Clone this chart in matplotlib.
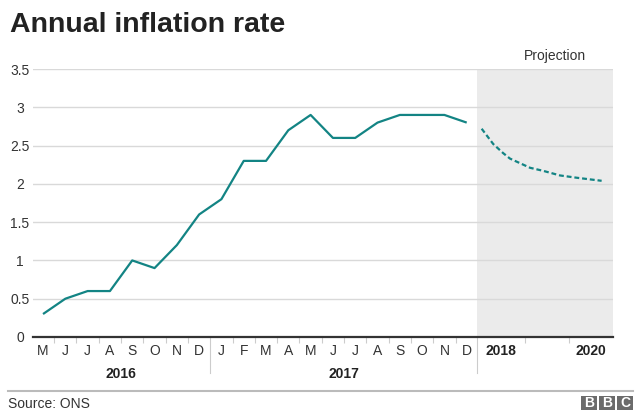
import matplotlib.pyplot as plt
from matplotlib.patches import Rectangle

plt.rcParams['font.family'] = ['Liberation Sans', 'DejaVu Sans']

# monthly data, May 2016 - Dec 2017
months = ['M', 'J', 'J', 'A', 'S', 'O', 'N', 'D',
          'J', 'F', 'M', 'A', 'M', 'J', 'J', 'A', 'S', 'O', 'N', 'D']
rate = [0.3, 0.5, 0.6, 0.6, 1.0, 0.9, 1.2, 1.6,
        1.8, 2.3, 2.3, 2.7, 2.9, 2.6, 2.6, 2.8, 2.9, 2.9, 2.9, 2.8]

# projection (x in month-slot units after Dec 2017)
proj_x = [19.67, 20.19, 20.64, 20.94, 21.39, 21.84, 22.43, 23.18, 23.93, 25.05]
proj_y = [2.72, 2.52, 2.40, 2.33, 2.27, 2.21, 2.17, 2.11, 2.08, 2.04]
proj_years = ['2018', '2020']
proj_year_x = [20.55, 24.55]
year_labels = ['2016', '2017']
year_x = [3.5, 13.5]

teal = '#138484'

fig = plt.figure(figsize=(6.4, 4.2), dpi=100)
ax = fig.add_axes([33/640, 1-337/420, 580/640, 268/420])

x = list(range(len(months)))
ax.plot(x, rate, color=teal, lw=1.6, solid_capstyle='butt', zorder=3)
ax.plot(proj_x, proj_y, color=teal, lw=1.6, ls=(0, (2.2, 1.3)), zorder=3)

xmin, xmax = -0.45, 25.56
shade_start = 19.45
ax.set_xlim(xmin, xmax)
ax.set_ylim(0, 3.5)
ax.add_patch(Rectangle((shade_start, 0), xmax - shade_start, 3.5,
                       color='#ebebeb', lw=0, zorder=0))

ax.set_yticks([0, 0.5, 1, 1.5, 2, 2.5, 3, 3.5])
ax.set_yticklabels(['0', '0.5', '1', '1.5', '2', '2.5', '3', '3.5'])
ax.yaxis.grid(True, color='#d9d9d9', lw=1)
ax.set_axisbelow(True)
ax.tick_params(axis='y', length=0, pad=0, labelsize=10, labelcolor='#333333')
for lab in ax.get_yticklabels():
    lab.set_horizontalalignment('center')
    lab.set_x(-13/580)

ax.set_xticks(x + proj_year_x)
ax.set_xticklabels(months + proj_years)
ax.tick_params(axis='x', length=0, pad=5, labelsize=10, labelcolor='#333333')
for lab in ax.get_xticklabels()[len(months):]:
    lab.set_fontweight('bold')
    lab.set_color('#222222')

minor = [i + 0.5 for i in range(len(months) - 1) if i != 7] + [21.6, 23.6]
ax.set_xticks(minor, minor=True)
ax.tick_params(axis='x', which='minor', length=4, width=0.8, color='#cccccc')

for s in ['top', 'right', 'left']:
    ax.spines[s].set_visible(False)
ax.spines['bottom'].set_color('#333333')
ax.spines['bottom'].set_linewidth(1.6)
ax.spines['bottom'].set_zorder(4)

tr = ax.get_xaxis_transform()
for sx in [7.5, shade_start]:
    ax.plot([sx, sx], [0, -36/268], transform=tr, color='#cccccc', lw=0.8,
            clip_on=False)
for yl, yx in zip(year_labels, year_x):
    ax.text(yx, -37/268, yl, transform=tr, ha='center', va='center',
            fontsize=10, fontweight='bold', color='#222222')

ax.text(22.96, 1.05, 'Projection', transform=tr,
        ha='center', va='center', fontsize=10, color='#333333')

fig.text(10/640, 1-25/420, 'Annual inflation rate', fontsize=20.5,
         fontweight='bold', color='#222222', va='center', ha='left')

fig.add_artist(plt.Line2D([8/640, 633/640], [1-391/420, 1-391/420],
                          color='#bbbbbb', lw=1.5))
fig.text(8/640, 1-404/420, 'Source: ONS', fontsize=10, color='#333333',
         va='center', ha='left')

# BBC blocks
for k, ch in enumerate('BBC'):
    bx = 581 + k * 18
    fig.add_artist(Rectangle((bx/640, 1-410/420), 16/640, 14/420,
                             transform=fig.transFigure, color='#6b6b6b', lw=0))
    fig.text((bx + 8)/640, 1-403/420, ch, fontsize=10, fontweight='bold',
             color='white', ha='center', va='center')

fig.savefig('out.png', dpi=100)
